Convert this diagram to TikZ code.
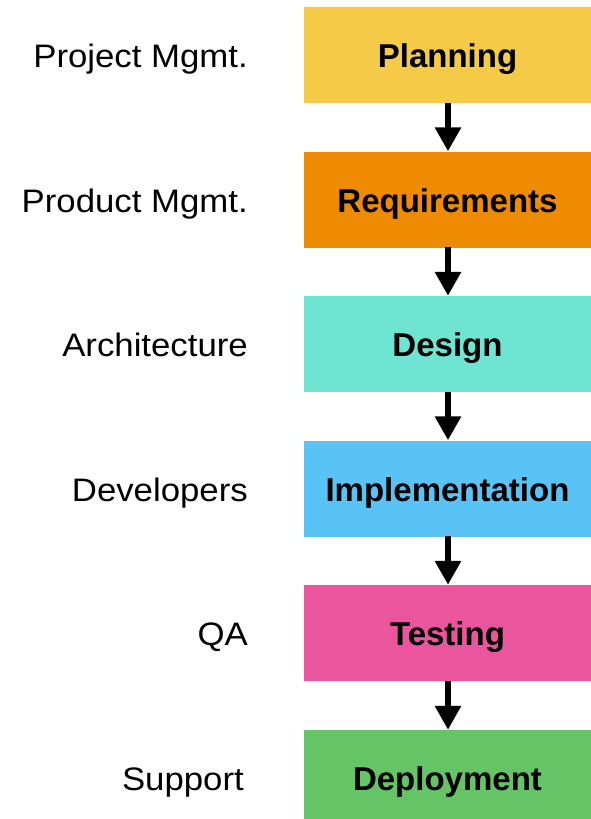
\documentclass[tikz,border=0pt]{standalone}
\usepackage{fontspec}
\setmainfont{Liberation Sans}
\newfontfamily\rolefont[FakeStretch=1.07]{Liberation Sans}
\usetikzlibrary{arrows.meta}
\definecolor{cPlan}{HTML}{F4CA47}
\definecolor{cReq}{HTML}{EF8B00}
\definecolor{cDes}{HTML}{6EE4D3}
\definecolor{cImp}{HTML}{5AC3F5}
\definecolor{cTest}{HTML}{EB559E}
\definecolor{cDep}{HTML}{64C466}
\tikzset{
  phase/.style={fill=#1, draw=none, minimum width=287pt, minimum height=96pt, inner sep=0pt,
    font=\fontsize{33}{36}\selectfont\bfseries, text height=25pt, text depth=0pt},
  role/.style={anchor=east, inner sep=0pt, font=\rolefont\fontsize{32.5}{36}\selectfont, text height=25pt, text depth=0pt},
  flow/.style={line width=6pt, -{Triangle[width=25pt,length=24pt]}, shorten <=-0.5pt, shorten >=0pt}
}
\begin{document}
\begin{tikzpicture}[x=1pt,y=-1pt]
\useasboundingbox (0,0) rectangle (590,819);
\node[phase=cPlan] (p1) at (447.5,55) {Planning};
\node[phase=cReq]  (p2) at (447.5,199.5) {Requirements};
\node[phase=cDes]  (p3) at (447.5,344) {Design};
\node[phase=cImp]  (p4) at (447.5,488.5) {Implementation};
\node[phase=cTest] (p5) at (447.5,633) {Testing};
\node[phase=cDep]  (p6) at (447.5,778) {Deployment};
\node[role] (l1) at (248,55) {Project Mgmt.};
\node[role] (l2) at (248,199.5) {Product Mgmt.};
\node[role] (l3) at (248,344) {Architecture};
\node[role] (l4) at (248,488.5) {Developers};
\node[role] (l5) at (248,633) {QA};
\node[role] (l6) at (244,778) {Support};
\foreach \a/\b in {p1/p2,p2/p3,p3/p4,p4/p5,p5/p6}
  \draw[flow] ([xshift=0.5pt]\a.south) -- ([xshift=0.5pt]\b.north);
\end{tikzpicture}
\end{document}
